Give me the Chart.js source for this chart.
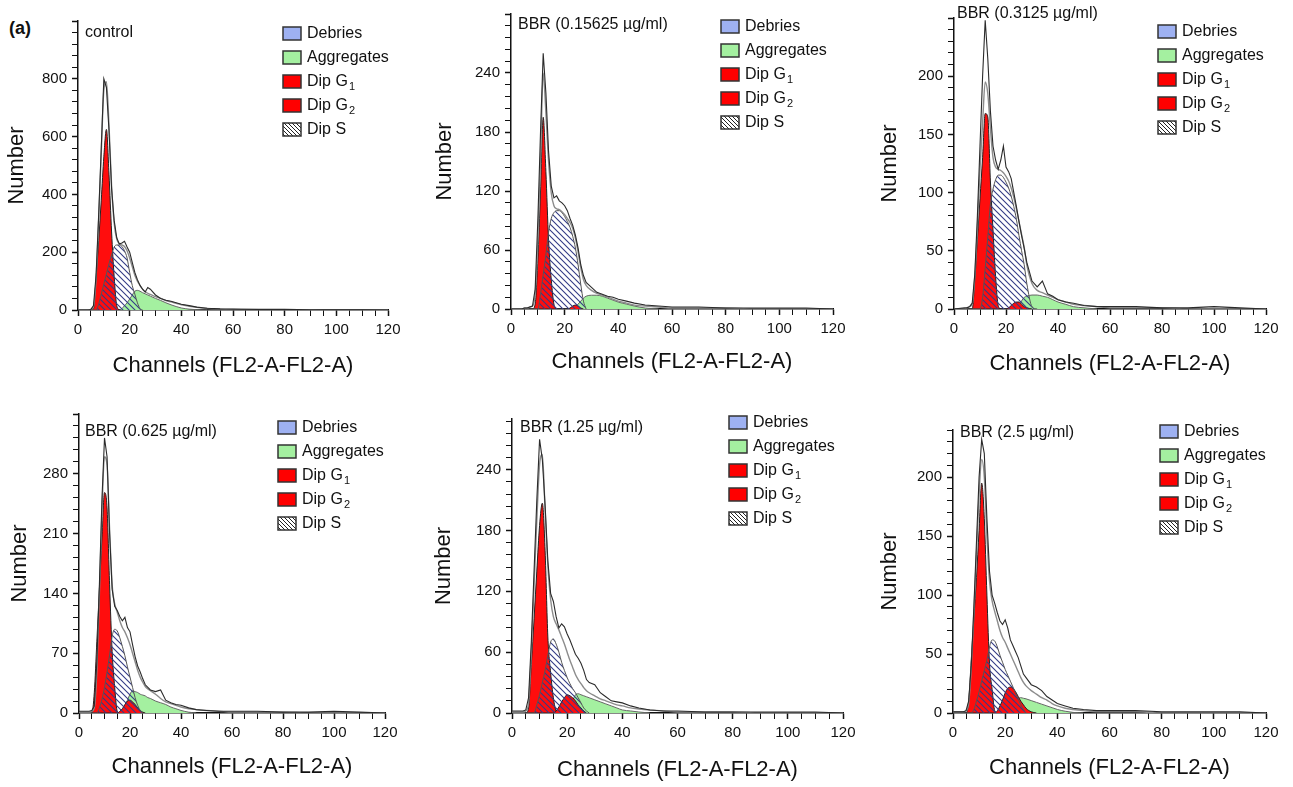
<!DOCTYPE html>
<html>
<head>
<meta charset="utf-8">
<script src="https://cdn.jsdelivr.net/npm/chart.js@4.4.0/dist/chart.umd.min.js"></script>
<style>
  body { margin: 0; background: #fff; width: 1293px; height: 787px; overflow: hidden; position: relative;
         font-family: "Liberation Sans", Arial, sans-serif; }
  canvas { position: absolute; }
  #tag { position: absolute; left: 9px; top: 19px; font-weight: bold; font-size: 18px; line-height: 1; color: #111; }
</style>
</head>
<body>
<div id="tag">(a)</div>
<canvas id="p1"></canvas>
<canvas id="p2"></canvas>
<canvas id="p3"></canvas>
<canvas id="p4"></canvas>
<canvas id="p5"></canvas>
<canvas id="p6"></canvas>
<script>
// channel grid shared by every series (FL2-A channel)
const channels = [0, 4, 5, 6, 7, 8, 9, 10, 11, 12, 13, 14, 15, 16, 17, 18, 19, 20, 21, 22, 23, 24, 25, 26, 27, 28,
                  30, 32, 34, 36, 38, 40, 43, 46, 50, 55, 60, 70, 80, 90, 100, 110, 120];

// control
const ctrlRaw = [0,0,2,15,120,330,560,800,770,620,420,310,250,228,232,238,218,200,165,130,105,85,72,62,78,72,52,40,34,30,25,20,15,10,6,4,3,2,2,1,1,1,0];
const ctrlFit = [0,0,2,12,110,310,540,760,790,640,430,300,245,230,225,220,205,180,150,120,100,85,72,64,58,54,46,40,33,28,23,18,13,9,5,3,2,1,1,1,0,0,0];
const ctrlG1 = [0,0,0,5,110,240,380,530,625,470,270,115,15,0];
const ctrlG2 = [];
const ctrlS = [0,0,0,0,0,20,55,90,125,160,190,218,225,225,220,205,180,130,85,55,25,5,0];
const ctrlAgg = [0,0,0,0,0,0,0,0,0,0,0,0,0,0,5,15,25,38,52,65,68,65,60,56,52,48,40,33,25,18,12,7,3,1,0];

// BBR 0.15625 µg/ml
const d015Raw = [0,0,1,1,2,3,20,90,180,260,220,160,125,113,115,110,108,105,100,92,85,75,62,45,34,27,22,17,15,13,12,10,8,6,4,3,2,2,1,1,1,1,0];
const d015Fit = [0,0,1,1,2,3,15,70,150,240,200,150,118,105,102,101,99,96,92,88,82,72,58,42,30,24,19,16,14,12,10,8,6,4,3,2,1,1,1,0,0,0,0];
const d015G1 = [0,0,0,0,0,0,5,50,120,195,140,70,30,5,0];
const d015G2 = [0,0,0,0,0,0,0,0,0,0,0,0,0,0,0,0,0,0,0,1,3,4,3,1,0];
const d015S = [0,0,0,0,0,0,0,0,15,35,55,78,92,98,100,100,98,94,89,83,74,62,45,25,8,0];
const d015Agg = [0,0,0,0,0,0,0,0,0,0,0,0,0,0,0,0,0,0,0,0,0,2,5,8,11,13,14,14,13,11,9,7,5,3,1,0];

// BBR 0.3125 µg/ml
const d031Raw = [0,1,1,2,5,30,80,140,200,248,215,170,140,128,120,128,140,122,118,112,100,88,75,63,52,40,24,19,24,13,11,8,6,5,3,2,2,2,1,1,2,1,0];
const d031Fit = [0,0,1,2,4,28,70,120,160,195,185,155,130,122,120,119,117,114,110,104,96,86,75,64,53,38,22,16,14,12,10,8,6,4,3,2,1,1,1,0,0,0,0];
const d031G1 = [0,0,0,0,0,25,60,95,130,168,165,110,68,28,3,0];
const d031G2 = [0,0,0,0,0,0,0,0,0,0,0,0,0,0,0,0,0,0,1,3,5,6,6,4,2,1,0];
const d031S = [0,0,0,0,0,0,0,0,10,35,62,90,103,111,115,115,113,109,104,97,88,77,63,50,38,22,2,0];
const d031Agg = [0,0,0,0,0,0,0,0,0,0,0,0,0,0,0,0,0,0,0,0,0,0,3,7,10,11,12,12,11,10,8,6,4,2,1,0];

// BBR 0.625 µg/ml
const d062Raw = [2,2,3,8,60,150,250,322,300,210,145,125,120,113,108,112,100,95,80,66,55,48,40,33,30,27,25,27,15,12,10,9,6,4,3,2,2,2,1,1,2,1,0];
const d062Fit = [1,1,2,6,50,140,235,300,290,215,150,128,118,108,100,95,88,80,70,60,50,42,36,31,28,26,22,17,13,11,9,7,5,4,3,2,1,1,1,0,0,0,0];
const d062G1 = [0,0,0,24,84,145,205,258,240,150,72,30,2,0];
const d062G2 = [0,0,0,0,0,0,0,0,0,0,0,0,0,2,5,10,14,15,13,10,6,3,1,0];
const d062S = [0,0,0,0,0,6,16,30,48,68,90,98,96,88,78,67,54,42,30,18,9,3,0];
const d062Agg = [0,0,0,0,0,0,0,0,0,0,0,0,0,0,3,8,15,22,26,25,24,22,21,20,18,17,14,12,10,7,5,3,1,0];

// BBR 1.25 µg/ml
const d125Raw = [2,2,3,15,70,140,210,270,250,205,150,118,110,95,84,88,85,78,72,65,58,54,49,42,33,30,28,20,16,12,11,10,7,5,3,2,2,1,1,1,1,1,0];
const d125Fit = [1,1,2,10,60,125,190,245,255,200,145,112,95,88,82,75,68,60,52,45,38,33,29,25,22,20,17,14,12,10,8,7,5,4,3,2,1,1,1,0,0,0,0];
const d125G1 = [0,0,0,5,48,93,140,185,207,160,75,40,15,2,0];
const d125G2 = [0,0,0,0,0,0,0,0,0,0,0,0,0,2,6,11,15,18,17,15,12,8,5,2,0];
const d125S = [0,0,0,0,0,0,8,18,30,42,57,70,73,68,60,50,42,35,29,24,20,15,10,5,2,0];
const d125Agg = [0,0,0,0,0,0,0,0,0,0,0,0,0,0,0,0,0,0,5,12,18,19,18,17,16,15,13,11,9,7,5,3,2,1,0];

// BBR 2.5 µg/ml
const d250Raw = [1,1,2,10,40,90,145,200,232,220,165,120,100,93,85,78,75,79,72,62,57,52,47,40,33,30,24,22,19,14,11,8,6,4,3,2,2,2,1,1,1,1,0];
const d250Fit = [1,1,2,8,38,85,135,185,215,200,150,112,95,86,78,70,64,60,55,50,45,40,35,30,26,23,19,16,13,11,8,6,4,3,2,1,1,1,0,0,0,0,0];
const d250G1 = [0,0,0,10,45,80,115,155,195,165,100,42,20,2,0];
const d250G2 = [0,0,0,0,0,0,0,0,0,0,0,0,0,0,2,6,11,17,21,22,21,18,14,10,7,4,1,0];
const d250S = [0,0,0,0,0,3,10,18,27,36,45,56,62,61,56,49,43,37,32,27,22,17,12,7,3,0];
const d250Agg = [0,0,0,0,0,0,0,0,0,0,0,0,0,0,0,0,0,0,0,0,3,8,12,13,12.5,12,10.5,9,7.5,6,4.5,3,1.5,0.5,0];

const FONT = '"Liberation Sans", Arial, sans-serif';
Chart.defaults.font.family = FONT;
Chart.defaults.color = '#111';

function points(values) {
  return values.map((v, i) => ({ x: channels[i], y: v }));
}

function makeHatch(color, size, width) {
  const c = document.createElement('canvas');
  c.width = size;
  c.height = size;
  const g = c.getContext('2d');
  g.strokeStyle = color;
  g.lineWidth = width;
  g.beginPath();
  g.moveTo(0, 0); g.lineTo(size, size);
  g.moveTo(-2, size - 2); g.lineTo(2, size + 2);
  g.moveTo(size - 2, -2); g.lineTo(size + 2, 2);
  g.stroke();
  return g.createPattern(c, 'repeat');
}

const hatchS = makeHatch('#343c86', 6, 1.1);
const hatchKey = makeHatch('#222', 4, 1);

const legendItems = [
  { text: 'Debries', fill: '#9eb1f2' },
  { text: 'Aggregates', fill: '#a4f0a0' },
  { text: 'Dip G', sub: '1', fill: '#ff0000' },
  { text: 'Dip G', sub: '2', fill: '#ff0000' },
  { text: 'Dip S', fill: null }
];

// panel caption + the ModFit style key, drawn inside each plot
const panelDecor = {
  id: 'panelDecor',
  afterDraw(chart, args, opts) {
    const { ctx, chartArea } = chart;
    ctx.save();
    ctx.textBaseline = 'middle';
    ctx.fillStyle = '#111';
    ctx.font = '16px ' + FONT;
    ctx.fillText(opts.label, chartArea.left + opts.labelAt[0], chartArea.top + opts.labelAt[1]);

    const lx = chartArea.right - opts.legendAt[0];
    let ly = chartArea.top + opts.legendAt[1];
    legendItems.forEach(item => {
      ctx.fillStyle = item.fill || '#fff';
      ctx.fillRect(lx, ly - 6, 18, 13);
      if (!item.fill) {
        ctx.fillStyle = hatchKey;
        ctx.fillRect(lx, ly - 6, 18, 13);
      }
      ctx.strokeStyle = '#333';
      ctx.lineWidth = 1.5;
      ctx.strokeRect(lx, ly - 6, 18, 13);
      ctx.fillStyle = '#111';
      ctx.font = '16px ' + FONT;
      ctx.fillText(item.text, lx + 24, ly + 1);
      if (item.sub) {
        const w = ctx.measureText(item.text).width;
        ctx.font = '11px ' + FONT;
        ctx.fillText(item.sub, lx + 25 + w, ly + 6);
      }
      ly += 24;
    });
    ctx.restore();
  }
};

const panels = [
  { id: 'p1', label: 'control', raw: ctrlRaw, fit: ctrlFit, g1: ctrlG1, g2: ctrlG2, s: ctrlS, agg: ctrlAgg,
    box: { l: 78, r: 388, t: 21, b: 310 }, yMax: 1000, yMajor: 200, yMinor: 40, yGap: 61, xGap: 56,
    labelAt: [7, 12], legendAt: [105, 12] },
  { id: 'p2', label: 'BBR (0.15625 µg/ml)', raw: d015Raw, fit: d015Fit, g1: d015G1, g2: d015G2, s: d015S, agg: d015Agg,
    box: { l: 511, r: 833, t: 14, b: 309 }, yMax: 300, yMajor: 60, yMinor: 12, yGap: 66, xGap: 53,
    labelAt: [7, 11], legendAt: [112, 12] },
  { id: 'p3', label: 'BBR (0.3125 µg/ml)', raw: d031Raw, fit: d031Fit, g1: d031G1, g2: d031G2, s: d031S, agg: d031Agg,
    box: { l: 954, r: 1266, t: 18, b: 309 }, yMax: 250, yMajor: 50, yMinor: 10, yGap: 64, xGap: 55,
    labelAt: [3, -4], legendAt: [108, 13] },
  { id: 'p4', label: 'BBR (0.625 µg/ml)', raw: d062Raw, fit: d062Fit, g1: d062G1, g2: d062G2, s: d062S, agg: d062Agg,
    box: { l: 79, r: 385, t: 414, b: 713 }, yMax: 350, yMajor: 70, yMinor: 14, yGap: 59, xGap: 54,
    labelAt: [6, 18], legendAt: [107, 13] },
  { id: 'p5', label: 'BBR (1.25 µg/ml)', raw: d125Raw, fit: d125Fit, g1: d125G1, g2: d125G2, s: d125S, agg: d125Agg,
    box: { l: 512, r: 843, t: 419, b: 713 }, yMax: 290, yMajor: 60, yMinor: 12, yGap: 68, xGap: 57,
    labelAt: [8, 9], legendAt: [114, 3] },
  { id: 'p6', label: 'BBR (2.5 µg/ml)', raw: d250Raw, fit: d250Fit, g1: d250G1, g2: d250G2, s: d250S, agg: d250Agg,
    box: { l: 953, r: 1266, t: 430, b: 713 }, yMax: 240, yMajor: 50, yMinor: 10, yGap: 63, xGap: 55,
    labelAt: [7, 3], legendAt: [106, 1] }
];

function isMajor(v, step) {
  return Math.abs(v / step - Math.round(v / step)) < 1e-6;
}

panels.forEach(p => {
  const padT = 22, padR = 22;
  const yW = Math.round(p.yGap + 13.2);
  const xH = Math.round(p.xGap + 13.2);
  const canvas = document.getElementById(p.id);
  canvas.width = p.box.r - p.box.l + yW + padR;
  canvas.height = p.box.b - p.box.t + padT + xH;
  canvas.style.left = (p.box.l - yW) + 'px';
  canvas.style.top = (p.box.t - padT) + 'px';

  const area = (label, values, fillColor, lineColor, order) => ({
    label: label,
    data: points(values),
    fill: 'origin',
    backgroundColor: fillColor,
    borderColor: lineColor,
    borderWidth: 1,
    cubicInterpolationMode: 'monotone',
    order: order
  });

  new Chart(canvas, {
    type: 'line',
    data: {
      datasets: [
        area('Aggregates', p.agg, '#a4f0a0', '#666', 6),
        area('Dip G1', p.g1, '#ff0d0d', '#222', 5),
        area('Dip G2', p.g2, '#ff0d0d', '#222', 4),
        area('Dip S', p.s, hatchS, '#555', 3),
        { label: 'Fit', data: points(p.fit), fill: false, borderColor: '#8c8c8c', borderWidth: 1.4,
          cubicInterpolationMode: 'monotone', order: 2 },
        { label: 'Histogram', data: points(p.raw), fill: false, borderColor: '#2b2b2b', borderWidth: 1.1,
          tension: 0, order: 1 }
      ]
    },
    options: {
      responsive: false,
      animation: false,
      devicePixelRatio: 1,
      elements: { point: { radius: 0 } },
      layout: { padding: { left: 0, top: padT, right: padR, bottom: 0 } },
      plugins: {
        legend: { display: false },
        tooltip: { enabled: false },
        panelDecor: { label: p.label, labelAt: p.labelAt, legendAt: p.legendAt }
      },
      scales: {
        x: {
          type: 'linear', min: 0, max: 120,
          afterBuildTicks: s => {
            const t = [];
            for (let v = 0; v <= 120; v += 5) t.push({ value: v });
            s.ticks = t;
          },
          afterFit: s => { s.height = xH; },
          ticks: { autoSkip: false, maxRotation: 0, padding: 5, font: { size: 15 },
                   callback: v => isMajor(v, 20) ? v : '' },
          grid: { drawOnChartArea: false, tickLength: 6, tickColor: '#111',
                  tickWidth: c => (c.tick && isMajor(c.tick.value, 20)) ? 1.5 : 1 },
          border: { color: '#111', width: 1.5 },
          title: { display: true, text: 'Channels (FL2-A-FL2-A)', font: { size: 22 }, padding: 0, color: '#111' }
        },
        y: {
          min: 0, max: p.yMax,
          afterBuildTicks: s => {
            const t = [];
            for (let v = 0; v <= p.yMax + 1e-6; v += p.yMinor) t.push({ value: v });
            s.ticks = t;
          },
          afterFit: s => { s.width = yW; },
          ticks: { autoSkip: false, padding: 5, font: { size: 15 },
                   callback: v => (isMajor(v, p.yMajor) && v < p.yMax) ? v : '' },
          grid: { drawOnChartArea: false, tickLength: 6, tickColor: '#111',
                  tickWidth: c => (c.tick && isMajor(c.tick.value, p.yMajor)) ? 1.5 : 1 },
          border: { color: '#111', width: 1.5 },
          title: { display: true, text: 'Number', font: { size: 22 }, padding: 0, color: '#111' }
        }
      }
    },
    plugins: [panelDecor]
  });
});
</script>
</body>
</html>
